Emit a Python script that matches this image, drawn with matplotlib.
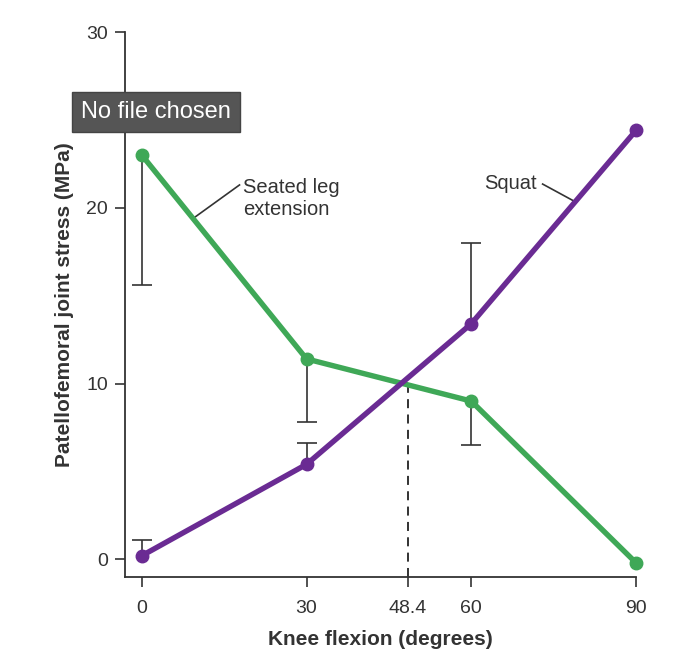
import numpy as np
import matplotlib
matplotlib.use('Agg')
import matplotlib.pyplot as plt

plt.rcParams['font.family'] = ['Liberation Sans', 'DejaVu Sans']

# knee flexion angles (degrees)
angles = np.array([0, 30, 60, 90])

# seated leg extension: mean stress and lower error
leg_ext = np.array([23.0, 11.4, 9.0, -0.2])
leg_ext_err = np.array([7.4, 3.6, 2.5, 0.0])

# squat: mean stress and upper error
squat = np.array([0.2, 5.4, 13.4, 24.4])
squat_err = np.array([0.9, 1.2, 4.6, 0.0])

cross_x = 48.4
xtick_vals = [0, 30, 48.4, 60, 90]
xtick_labels = ['0', '30', '48.4', '60', '90']
ytick_vals = [0, 10, 20, 30]

green = '#3fa857'
purple = '#6a2b93'
dark = '#333333'

fig = plt.figure(figsize=(6.78, 6.54), dpi=100)
ax = fig.add_axes([0.184, 0.118, 0.754, 0.833])


def one_sided_bars(x, y, ends):
    # stem from the point to the end, with a cap only at the end
    keep = ends != y
    ax.vlines(x[keep], y[keep], ends[keep], color=dark, lw=1.2, zorder=1)
    ax.plot(x[keep], ends[keep], ls='none', marker='_', ms=14, mew=1.2,
            color=dark, zorder=1)


one_sided_bars(angles, leg_ext, leg_ext - leg_ext_err)
one_sided_bars(angles, squat, squat + squat_err)

# dashed line from crossing point down to the axis
cross_y = np.interp(cross_x, angles, leg_ext)
ax.plot([cross_x, cross_x], [-1, cross_y], color='#222222', lw=1.3,
        ls=(0, (5, 3.5)), zorder=2)

ax.plot(angles, leg_ext, color=green, lw=3.9, marker='o', ms=9,
        clip_on=False, zorder=3)
ax.plot(angles, squat, color=purple, lw=3.9, marker='o', ms=9,
        clip_on=False, zorder=3)

# labels with leader lines
ax.plot([9.6, 17.8], [19.45, 21.3], color=dark, lw=1.2, zorder=2)
ax.text(18.5, 20.55, 'Seated leg\nextension', fontsize=14.5, color=dark,
        ha='left', va='center', linespacing=1.2)
ax.plot([73.0, 78.6], [21.35, 20.4], color=dark, lw=1.2, zorder=2)
ax.text(72.0, 21.4, 'Squat', fontsize=14.5, color=dark, ha='right',
        va='center')

ax.set_xlim(-3.1, 90)
ax.set_ylim(-1, 30)
ax.set_xticks(xtick_vals)
ax.set_xticklabels(xtick_labels)
ax.set_yticks(ytick_vals)

for s in ['top', 'right']:
    ax.spines[s].set_visible(False)
for s in ['left', 'bottom']:
    ax.spines[s].set_linewidth(1.3)
    ax.spines[s].set_color(dark)
ax.tick_params(direction='out', length=7, width=1.2, color=dark,
               labelsize=14, labelcolor=dark, pad=5)
ax.tick_params(axis='x', pad=10)

ax.set_xlabel('Knee flexion (degrees)', fontsize=15, fontweight='bold',
              color=dark, labelpad=9)
ax.set_ylabel('Patellofemoral joint stress (MPa)', fontsize=15,
              fontweight='bold', color=dark, labelpad=9)

# browser tooltip overlay seen on the image
fig.text(156 / 678, 1 - 112 / 654, 'No file chosen', fontsize=17,
         color='white', ha='center', va='center',
         bbox=dict(boxstyle='square,pad=0.4', facecolor='#555555',
                   edgecolor='#444444'), zorder=10)

fig.savefig('out.png', dpi=100)
